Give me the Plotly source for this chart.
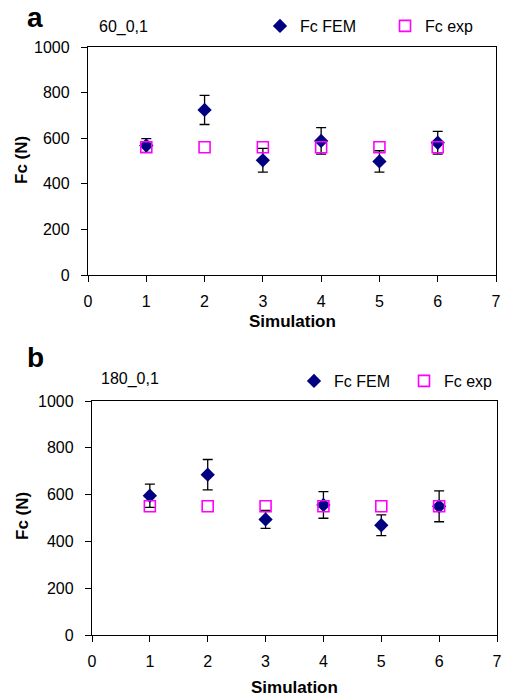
import plotly.graph_objects as go

# Simulation index on the x axis
sims = [1, 2, 3, 4, 5, 6]
x_ticks = [0, 1, 2, 3, 4, 5, 6, 7]
y_ticks = [0, 200, 400, 600, 800, 1000]

# Panel a: 60_0,1
fem_a = [568, 724, 503, 588, 498, 580]
fem_a_err = [30, 64, 52, 58, 47, 50]
exp_a = [560, 560, 560, 560, 560, 560]

# Panel b: 180_0,1
fem_b = [595, 685, 494, 556, 469, 550]
fem_b_err = [50, 65, 38, 57, 44, 66]
exp_b = [550, 550, 550, 550, 550, 550]

W, H = 505, 697
FONT = "Liberation Sans, Arial, Helvetica, sans-serif"
NAVY = "#000080"
MAGENTA = "#FF00FF"


def px(x):
    return x / W


def py(y):
    return 1 - y / H


fig = go.Figure()

panels = [
    ("x", "y", fem_a, fem_a_err, exp_a, "legend"),
    ("x2", "y2", fem_b, fem_b_err, exp_b, "legend2"),
]
for xa, ya, fem, err, exp, leg in panels:
    fig.add_trace(go.Scatter(
        x=sims, y=fem, mode="markers", name="Fc FEM",
        xaxis=xa, yaxis=ya, legend=leg,
        marker=dict(symbol="diamond", size=11, color=NAVY, line=dict(width=0)),
        error_y=dict(type="data", array=err, visible=True,
                     color="black", thickness=1.3, width=5),
    ))
    fig.add_trace(go.Scatter(
        x=sims, y=exp, mode="markers", name="Fc exp",
        xaxis=xa, yaxis=ya, legend=leg,
        marker=dict(symbol="square-open", size=11, color=MAGENTA,
                    line=dict(width=1.6, color=MAGENTA)),
    ))

axis_common = dict(
    showline=True, linecolor="black", linewidth=1.3, mirror=True,
    ticks="outside", ticklen=6, tickcolor="black", tickwidth=1.3,
    showgrid=False, zeroline=False, automargin=False,
    tickfont=dict(family=FONT, size=16, color="black"),
)

fig.update_layout(
    width=W, height=H,
    margin=dict(l=0, r=0, t=0, b=0, pad=0, autoexpand=False),
    paper_bgcolor="white", plot_bgcolor="white",
    font=dict(family=FONT, color="black"),
    xaxis=dict(domain=[px(88), px(496)], range=[0, 7], tickvals=x_ticks,
               anchor="y", ticklabelstandoff=6, **axis_common),
    yaxis=dict(domain=[py(275), py(47)], range=[0, 1000], tickvals=y_ticks,
               anchor="x", ticklabelstandoff=8, **axis_common),
    xaxis2=dict(domain=[px(92), px(497)], range=[0, 7], tickvals=x_ticks,
                anchor="y2", ticklabelstandoff=6, **axis_common),
    yaxis2=dict(domain=[py(635), py(401)], range=[0, 1000], tickvals=y_ticks,
                anchor="x2", ticklabelstandoff=8, **axis_common),
    legend=dict(orientation="h", x=px(260), y=py(26), xanchor="left",
                yanchor="middle", entrywidth=80, entrywidthmode="pixels",
                font=dict(family=FONT, size=16, color="black"),
                bgcolor="rgba(0,0,0,0)"),
    legend2=dict(orientation="h", x=px(294), y=py(381), xanchor="left",
                 yanchor="middle", entrywidth=65, entrywidthmode="pixels",
                 font=dict(family=FONT, size=16, color="black"),
                 bgcolor="rgba(0,0,0,0)"),
    showlegend=True,
)

# Panel letters, panel captions and axis titles
texts = [
    ("<b>a</b>", 35, 17, 28, 0),
    ("<b>b</b>", 35, 357, 28, 0),
    ("60_0,1", 123, 27, 16, 0),
    ("180_0,1", 130, 379, 16, 0),
    ("<b>Simulation</b>", 292, 322, 17, 0),
    ("<b>Simulation</b>", 294, 687, 17, 0),
    ("<b>Fc (N)</b>", 22, 160, 17, -90),
    ("<b>Fc (N)</b>", 22, 516, 17, -90),
]
for t, x, y, s, ang in texts:
    fig.add_annotation(
        text=t, x=px(x), y=py(y), xref="paper", yref="paper",
        xanchor="center", yanchor="middle", showarrow=False, textangle=ang,
        font=dict(family=FONT, size=s, color="black"),
    )

fig.write_html("out.html")
